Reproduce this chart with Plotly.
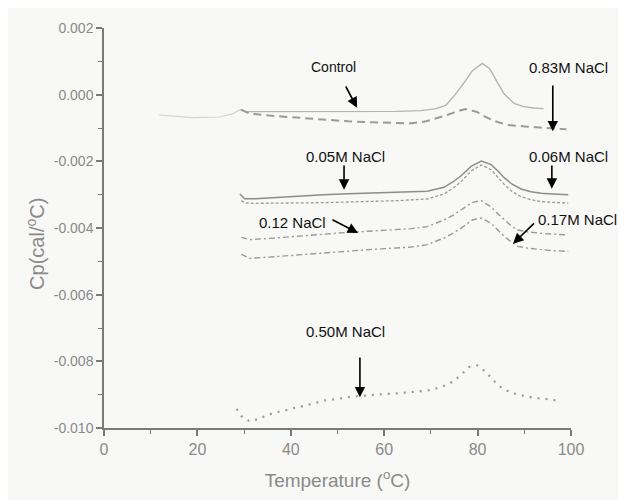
import plotly.graph_objects as go

# ---------------- data ----------------
control_pre_x = [11.8, 19.0, 24.8, 27.6, 29.1]
control_pre_y = [-0.00061, -0.00069, -0.00067, -0.00057, -0.00045]

control_x = [29.1, 30.1, 31.4, 41.8, 52.3, 62.7, 67.9, 71.1, 73.2, 75.2, 77.3, 78.9, 81.0, 82.6, 84.1, 85.7,
             87.8, 89.9, 92.0, 94.1]
control_y = [-0.00045, -0.00051, -0.00051, -0.00051, -0.00051, -0.00050, -0.00048, -0.00042, -0.00032,
             0.00000, 0.00040, 0.00072, 0.00094, 0.00078, 0.00040, 0.00002, -0.00026, -0.00036, -0.00040, -0.00042]

m083_x = [29.4, 31.2, 36.6, 41.8, 47.0, 52.3, 57.5, 62.7, 65.8, 69.0, 71.1, 73.2, 75.7, 77.4, 79.9, 81.5, 83.6,
          86.4, 90.7, 95.0, 99.0]
m083_y = [-0.00045, -0.00057, -0.00064, -0.00070, -0.00075, -0.00080, -0.00083, -0.00086, -0.00086, -0.00080,
          -0.00072, -0.00062, -0.00050, -0.00043, -0.00052, -0.00065, -0.00079, -0.00091, -0.00096, -0.00099, -0.00104]

m005_x = [29.1, 30.1, 32.4, 36.6, 41.8, 47.0, 52.3, 57.5, 62.7, 69.2, 72.8, 74.7, 76.4, 78.6, 80.8, 82.9, 84.4,
          85.7, 87.3, 89.3, 91.4, 93.6, 96.1, 99.4]
m005_y = [-0.00298, -0.00312, -0.00312, -0.00308, -0.00304, -0.00300, -0.00297, -0.00295, -0.00293, -0.00290,
          -0.00278, -0.00262, -0.00244, -0.00215, -0.00199, -0.00210, -0.00230, -0.00249, -0.00268, -0.00283,
          -0.00291, -0.00296, -0.00298, -0.00300]

m006_x = [29.4, 30.3, 32.4, 36.6, 41.8, 47.0, 52.3, 57.5, 62.7, 69.2, 72.8, 74.7, 76.4, 78.6, 80.8, 82.9, 84.4,
          85.7, 87.3, 89.3, 91.4, 93.6, 96.1, 99.4]
m006_y = [-0.00318, -0.00325, -0.00326, -0.00326, -0.00325, -0.00324, -0.00322, -0.00320, -0.00318, -0.00313,
          -0.00298, -0.00281, -0.00262, -0.00229, -0.00211, -0.00225, -0.00248, -0.00269, -0.00290, -0.00306,
          -0.00315, -0.00321, -0.00323, -0.00325]

m012_x = [29.4, 31.2, 36.6, 41.8, 47.0, 52.3, 57.5, 62.7, 65.8, 69.2, 72.8, 74.7, 76.4, 78.9, 80.8, 82.9, 84.4,
          85.7, 87.3, 88.6, 90.9, 93.6, 96.1, 99.4]
m012_y = [-0.00428, -0.00435, -0.00430, -0.00424, -0.00418, -0.00413, -0.00409, -0.00405, -0.00402, -0.00396,
          -0.00376, -0.00362, -0.00347, -0.00323, -0.00318, -0.00337, -0.00358, -0.00376, -0.00395, -0.00406,
          -0.00412, -0.00416, -0.00419, -0.00421]

m017_x = [29.4, 31.2, 36.6, 41.8, 47.0, 52.3, 57.5, 62.7, 65.8, 69.2, 72.8, 74.7, 76.4, 78.9, 80.8, 82.9, 84.4,
          85.7, 87.3, 88.6, 90.9, 93.6, 96.1, 99.4]
m017_y = [-0.00479, -0.00491, -0.00486, -0.00480, -0.00475, -0.00470, -0.00464, -0.00460, -0.00457, -0.00450,
          -0.00430, -0.00416, -0.00401, -0.00376, -0.00370, -0.00386, -0.00406, -0.00425, -0.00443, -0.00455,
          -0.00461, -0.00465, -0.00468, -0.00470]

m050_x = [28.4, 29.6, 31.2, 33.1, 35.0, 36.8, 38.6, 40.3, 42.1, 44.0, 45.7, 47.4, 49.3, 51.1, 53.0, 54.9, 56.4,
          58.3, 60.1, 61.9, 63.6, 65.5, 67.2, 69.1, 70.7, 72.6, 74.6, 76.4, 78.2, 79.9, 81.7, 83.4, 85.2, 87.0,
          88.7, 90.6, 92.3, 94.2, 95.9, 97.7]
m050_y = [-0.00943, -0.00968, -0.00980, -0.00973, -0.00961, -0.00953, -0.00948, -0.00941, -0.00936, -0.00929,
          -0.00922, -0.00917, -0.00914, -0.00910, -0.00906, -0.00904, -0.00902, -0.00900, -0.00898, -0.00897,
          -0.00895, -0.00893, -0.00891, -0.00888, -0.00883, -0.00875, -0.00862, -0.00841, -0.00817, -0.00812,
          -0.00831, -0.00858, -0.00880, -0.00893, -0.00900, -0.00906, -0.00910, -0.00912, -0.00916, -0.00919]

x_tick_vals = [0, 20, 40, 60, 80, 100]
y_tick_vals = [0.002, 0.000, -0.002, -0.004, -0.006, -0.008, -0.010]
y_tick_text = ["0.002", "0.000", "-0.002", "-0.004", "-0.006", "-0.008", "-0.010"]

# label positions: x is the left edge of the text, y its middle
label_text = ["Control", "0.83M NaCl", "0.05M NaCl", "0.06M NaCl", "0.12 NaCl", "0.17M NaCl", "0.50M NaCl"]
label_x = [43.8, 90.6, 42.8, 90.6, 32.7, 92.6, 42.8]
label_y = [0.00082, 0.00082, -0.00184, -0.00184, -0.00382, -0.00373, -0.00710]
arrow_tip_x = [54.2, 96.1, 51.4, 95.9, 54.4, 87.6, 54.8]
arrow_tip_y = [-0.00039, -0.00110, -0.00285, -0.00282, -0.00415, -0.00447, -0.00908]
arrow_tail_x = [51.6, 96.1, 51.4, 95.9, 48.6, 92.4, 54.8]
arrow_tail_y = [0.00029, 0.00032, -0.00208, -0.00208, -0.00373, -0.00382, -0.00784]

# ---------------- figure ----------------
fig = go.Figure()
GR = "#9a9a9a"
fig.add_trace(go.Scatter(x=control_pre_x, y=control_pre_y, mode="lines",
                         line=dict(color="#d2d2d2", width=1.2), showlegend=False))
fig.add_trace(go.Scatter(x=control_x, y=control_y, mode="lines",
                         line=dict(color="#b4b4b4", width=1.4), showlegend=False))
fig.add_trace(go.Scatter(x=m083_x, y=m083_y, mode="lines",
                         line=dict(color=GR, width=2, dash="8px,5px"), showlegend=False))
fig.add_trace(go.Scatter(x=m005_x, y=m005_y, mode="lines",
                         line=dict(color="#8c8c8c", width=1.5), showlegend=False))
fig.add_trace(go.Scatter(x=m006_x, y=m006_y, mode="lines",
                         line=dict(color=GR, width=1.3, dash="3px,2px"), showlegend=False))
fig.add_trace(go.Scatter(x=m012_x, y=m012_y, mode="lines",
                         line=dict(color=GR, width=1.4, dash="6px,3px,2px,3px"), showlegend=False))
fig.add_trace(go.Scatter(x=m017_x, y=m017_y, mode="lines",
                         line=dict(color=GR, width=1.4, dash="6px,3px,2px,3px"), showlegend=False))
fig.add_trace(go.Scatter(x=m050_x, y=m050_y, mode="lines",
                         line=dict(color=GR, width=2.2, dash="2px,6px"), showlegend=False))

for t, lx, ly in zip(label_text, label_x, label_y):
    fig.add_annotation(x=lx, y=ly, text=t, showarrow=False, xanchor="left", yanchor="middle",
                       font=dict(family="Liberation Sans, Arial", size=14 if t == "Control" else 15,
                                 color="#111111"))

for tx, ty, ax, ay in zip(arrow_tip_x, arrow_tip_y, arrow_tail_x, arrow_tail_y):
    fig.add_annotation(x=tx, y=ty, ax=ax, ay=ay, axref="x", ayref="y", text="",
                       showarrow=True, arrowhead=2, arrowsize=1.3, arrowwidth=1.6,
                       arrowcolor="#000000", standoff=0, startstandoff=0)

# y-axis title, placed a little below the axis middle as in the original
fig.add_annotation(xref="paper", yref="paper", x=-0.148, y=0.46, text="Cp(cal/<sup>o</sup>C)",
                   textangle=-90, showarrow=False, xanchor="center", yanchor="middle",
                   font=dict(family="Liberation Sans, Arial", size=20, color="#8a8a8a"))

axis_common = dict(showline=True, linecolor="#7a7a7a", linewidth=1.5, ticks="outside",
                   tickcolor="#7a7a7a", tickwidth=1.5, ticklen=6, showgrid=False, zeroline=False,
                   mirror=False)

fig.update_layout(
    width=626, height=500,
    margin=dict(l=96, r=63, t=12, b=80),
    paper_bgcolor="#f8f8f7", plot_bgcolor="#f8f8f7",
    showlegend=False,
    xaxis=dict(range=[0, 100], tickvals=x_tick_vals,
               tickfont=dict(family="Liberation Sans, Arial", size=16, color="#8a8a8a"),
               minor=dict(dtick=10, ticks="outside", ticklen=4, tickcolor="#7a7a7a", tickwidth=1.2),
               title=dict(text="Temperature (<sup>o</sup>C)", standoff=17,
                          font=dict(family="Liberation Sans, Arial", size=19, color="#8a8a8a")),
               **axis_common),
    yaxis=dict(range=[-0.010, 0.002], tickvals=y_tick_vals, ticktext=y_tick_text,
               tickfont=dict(family="Liberation Sans, Arial", size=14, color="#8a8a8a"),
               minor=dict(dtick=0.001, ticks="outside", ticklen=4, tickcolor="#7a7a7a", tickwidth=1.2),
               **axis_common),
)

fig.write_html("out.html")
